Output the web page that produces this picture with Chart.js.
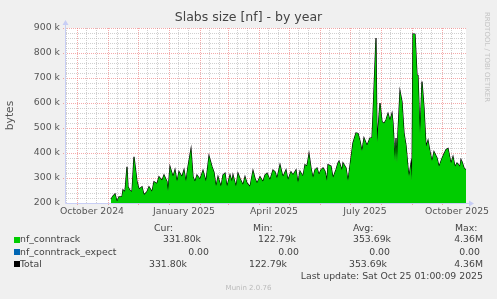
<!DOCTYPE html>
<html><head><meta charset="utf-8">
<script src="https://cdn.jsdelivr.net/npm/chart.js@4"></script>
<style>
html,body{margin:0;padding:0;background:#f0f0f0;}
#wrap{position:relative;width:497px;height:299px;overflow:hidden;font-family:"DejaVu Sans",sans-serif;background:#f0f0f0;}
canvas{position:absolute;left:0;top:0;}
.t{position:absolute;white-space:nowrap;color:#444;font-size:9.33px;line-height:10px;}
.r{text-align:right;}
.sq{position:absolute;width:6px;height:6px;}
</style>
</head><body>
<div id="wrap">
<canvas id="c" width="497" height="299"></canvas>
<div class="t" id="title" style="left:0;width:497px;text-align:center;top:10px;font-size:12.5px;line-height:14px;color:#444;"></div>
<div class="t" id="wm" style="left:483px;top:12px;font-size:7px;line-height:8px;color:#c4c4c4;transform-origin:0 0;transform:translate(8px,0) rotate(90deg);"></div>
<div id="legend"></div>
<div class="t" id="upd" style="right:14px;top:271px;"></div>
<div class="t" id="ver" style="left:0;width:497px;text-align:center;top:284px;font-size:7px;line-height:8px;color:#bbb;"></div>
</div>
<script>
// ---- data ----
const titleText = 'Slabs size [nf] - by year';
const yAxisTitle = 'bytes';
// day offsets from 1 Oct 2024
const days = [34,36,38,40,42,45,46,48,50,51,
53,55,57,60,62,65,67,70,72,75,
77,80,82,85,87,90,91,93,96,98,
100,102,105,107,109,111,114,116,118,120,
123,126,129,132,135,137,139,141,144,146,
148,150,153,155,156,159,161,163,166,168,
170,173,176,178,180,183,186,188,190,193,
196,198,200,203,205,206,209,211,214,216,
219,221,223,225,226,228,230,232,234,236,
238,240,242,244,246,248,250,251,254,256,
259,261,262,265,266,269,271,274,276,279,
281,283,285,287,290,291,293,295,296,299,
300,303,305,307,309,311,313,315,316,318,
319,320,321,323,325,327,329,331,332,334,
335,336,338,340,341,343,345,347,349,351,
353,355,357,360,362,365,367,369,371,374,
376,378,380,383,384,385,387,389];
// nf_conntrack, thousands of bytes
const conntrackK = [215,228,236,205,225,225,252,245,345,265,
250,245,385,285,255,265,232,245,265,245,
285,277,305,290,312,285,245,345,305,332,
285,325,305,332,285,345,415,305,285,312,
295,330,285,388,345,322,265,305,265,312,
319,265,312,285,312,265,319,298,272,305,
279,265,329,298,279,305,285,312,319,292,
332,325,298,352,319,305,332,292,325,312,
332,280,327,313,307,353,347,396,340,300,
333,340,313,333,340,327,287,353,347,300,
333,360,367,330,360,340,287,380,440,480,
478,447,407,460,430,440,460,460,550,860,
440,600,525,518,532,558,530,558,520,365,
460,358,485,647,605,480,430,340,305,358,
287,876,875,712,710,470,686,580,425,450,
405,367,405,380,345,378,396,413,418,358,
385,345,360,345,373,365,340,332];
const expectK = conntrackK.map(() => 0);
const tickDays = [15, 107, 197, 288, 380];
const tickLabels = ['October 2024','January 2025','April 2025','July 2025','October 2025'];
const xMin = -11, xMax = 389;
const yMin = 200000, yMax = 900000, yMajor = 100000, yMinor = 20000;
const seriesNames = ['nf_conntrack','nf_conntrack_expect','Total'];
const seriesColors = ['#00cc00','#0066b3','#000000'];
const statHeads = ['Cur:','Min:','Avg:','Max:'];
const statRows = [
  ['331.80k','122.79k','353.69k','4.36M'],
  ['0.00','0.00','0.00','0.00'],
  ['331.80k','122.79k','353.69k','4.36M']
];
const lastUpdate = 'Last update: Sat Oct 25 01:00:09 2025';
const version = 'Munin 2.0.76';
const watermark = 'RRDTOOL / TOBI OETIKER';

// ---- text ----
document.getElementById('title').textContent = titleText;
document.getElementById('wm').textContent = watermark;
document.getElementById('upd').textContent = lastUpdate;
document.getElementById('ver').textContent = version;
const lg = document.getElementById('legend');
function addText(txt, style, cls){
  const d = document.createElement('div'); d.className = 't ' + (cls||''); d.textContent = txt;
  Object.assign(d.style, style); lg.appendChild(d);
}
const headLeft = [154, 253, 353, 455];
statHeads.forEach((h,i)=>addText(h,{left:headLeft[i]+'px',top:'223px'}));
const rowTop = [234, 246.5, 258.5];
const sqTop = [237, 249, 261];
const rightEdges = [[201,296,391,483],[209,299,390,480],[187,287,387,483]];
seriesNames.forEach((n,r)=>{
  const s = document.createElement('div'); s.className='sq';
  s.style.left='14px'; s.style.top=sqTop[r]+'px'; s.style.background=seriesColors[r]; lg.appendChild(s);
  addText(n,{left:'20px',top:rowTop[r]+'px'});
  statRows[r].forEach((v,i)=>addText(v,{right:(497-rightEdges[r][i])+'px',top:rowTop[r]+'px'},'r'));
});

// ---- chart ----
const base = Date.UTC(2024,9,1);
const dayOf = (y,m,d) => (Date.UTC(y,m,d)-base)/864e5;
const conntrack = days.map((d,i)=>({x:d, y:conntrackK[i]*1000}));
const total = days.map((d,i)=>({x:d, y:(conntrackK[i]+expectK[i])*1000}));

const gridPlugin = {
  id:'munGrid',
  beforeDatasetsDraw(chart){
    const {ctx, chartArea:a, scales:{x,y}} = chart;
    ctx.save();
    ctx.fillStyle = '#ffffff';
    ctx.fillRect(a.left, a.top, a.right-a.left, a.bottom-a.top);
    ctx.lineWidth = 1;
    ctx.setLineDash([1,1]);
    const hline = (py,x0,x1)=>{ctx.beginPath();ctx.moveTo(x0,py);ctx.lineTo(x1,py);ctx.stroke();};
    const vline = (px,y0,y1)=>{ctx.beginPath();ctx.moveTo(px,y0);ctx.lineTo(px,y1);ctx.stroke();};
    // minor
    ctx.strokeStyle = 'rgba(170,170,170,0.55)';
    for(let v=yMin+yMinor; v<yMax+1; v+=yMinor){
      if(v % yMajor === 0) continue;
      hline(Math.round(y.getPixelForValue(v))+0.5, a.left, a.right);
    }
    const minorDays = [], majorDays = [];
    for(let k=0;k<16;k++){
      const yy = 2024 + Math.floor((8+k)/12), mm = (8+k)%12;
      majorDays.push(dayOf(yy,mm,1));
      minorDays.push(dayOf(yy,mm,10), dayOf(yy,mm,20));
    }
    minorDays.forEach(d=>{ if(d>=xMin && d<=xMax) vline(Math.round(x.getPixelForValue(d))+0.5, a.top, a.bottom); });
    // major
    ctx.strokeStyle = 'rgba(235,100,100,0.55)';
    for(let v=yMin+yMajor; v<=yMax; v+=yMajor){
      hline(Math.round(y.getPixelForValue(v))+0.5, a.left-3, a.right);
    }
    majorDays.forEach(d=>{ if(d>xMin && d<=xMax) vline(Math.round(x.getPixelForValue(d))+0.5, a.top, a.bottom+2); });
    ctx.restore();
  },
  afterDatasetsDraw(chart){
    const {ctx, chartArea:a} = chart;
    ctx.save();
    ctx.strokeStyle = '#c8cef5'; ctx.fillStyle = '#c8cef5'; ctx.lineWidth = 1;
    const x0 = Math.round(a.left)-0.5, y0 = Math.round(a.bottom)+0.5;
    ctx.beginPath(); ctx.moveTo(x0, y0); ctx.lineTo(x0, a.top-4); ctx.stroke();
    ctx.beginPath(); ctx.moveTo(x0-3, a.top-3); ctx.lineTo(x0+3, a.top-3); ctx.lineTo(x0, a.top-8); ctx.closePath(); ctx.fill();
    ctx.beginPath(); ctx.moveTo(x0, y0); ctx.lineTo(a.right+4, y0); ctx.stroke();
    ctx.beginPath(); ctx.moveTo(a.right+3, y0-3); ctx.lineTo(a.right+3, y0+3); ctx.lineTo(a.right+8, y0); ctx.closePath(); ctx.fill();
    ctx.restore();
  }
};

new Chart(document.getElementById('c'), {
  type:'line',
  data:{datasets:[
    {label:seriesNames[0], data:conntrack, borderWidth:0, borderColor:'rgba(0,0,0,0)', backgroundColor:seriesColors[0], fill:'start', pointRadius:0, tension:0},
    {label:seriesNames[2], data:total, borderWidth:1.2, borderColor:'#000', backgroundColor:'#000', fill:false, pointRadius:0, tension:0}
  ]},
  options:{
    responsive:false, animation:false, devicePixelRatio:1,
    layout:{padding:{left:0, right:31, top:28, bottom:0}},
    plugins:{legend:{display:false}, tooltip:{enabled:false}, title:{display:false}},
    scales:{
      x:{type:'linear', min:xMin, max:xMax,
        grid:{display:false, drawTicks:false}, border:{display:false},
        afterBuildTicks:(s)=>{ s.ticks = tickDays.map(v=>({value:v})); },
        afterFit:(s)=>{ s.height = 96; },
        ticks:{autoSkip:false, maxRotation:0, padding:3, color:'#555',
          font:{family:'DejaVu Sans', size:9.33},
          callback:(v)=>{ const i = tickDays.indexOf(v); return i>=0 ? tickLabels[i] : ''; }}
      },
      y:{type:'linear', min:yMin, max:yMax,
        grid:{display:false, drawTicks:false}, border:{display:false},
        afterFit:(s)=>{ s.width = 66; },
        title:{display:true, text:yAxisTitle, color:'#555', font:{family:'DejaVu Sans', size:10.7}, padding:{top:4,bottom:0}},
        ticks:{stepSize:yMajor, padding:6, color:'#555', font:{family:'DejaVu Sans', size:9.33},
          callback:(v)=> (v/1000) + ' k'}
      }
    }
  },
  plugins:[gridPlugin]
});
</script>
</body></html>
